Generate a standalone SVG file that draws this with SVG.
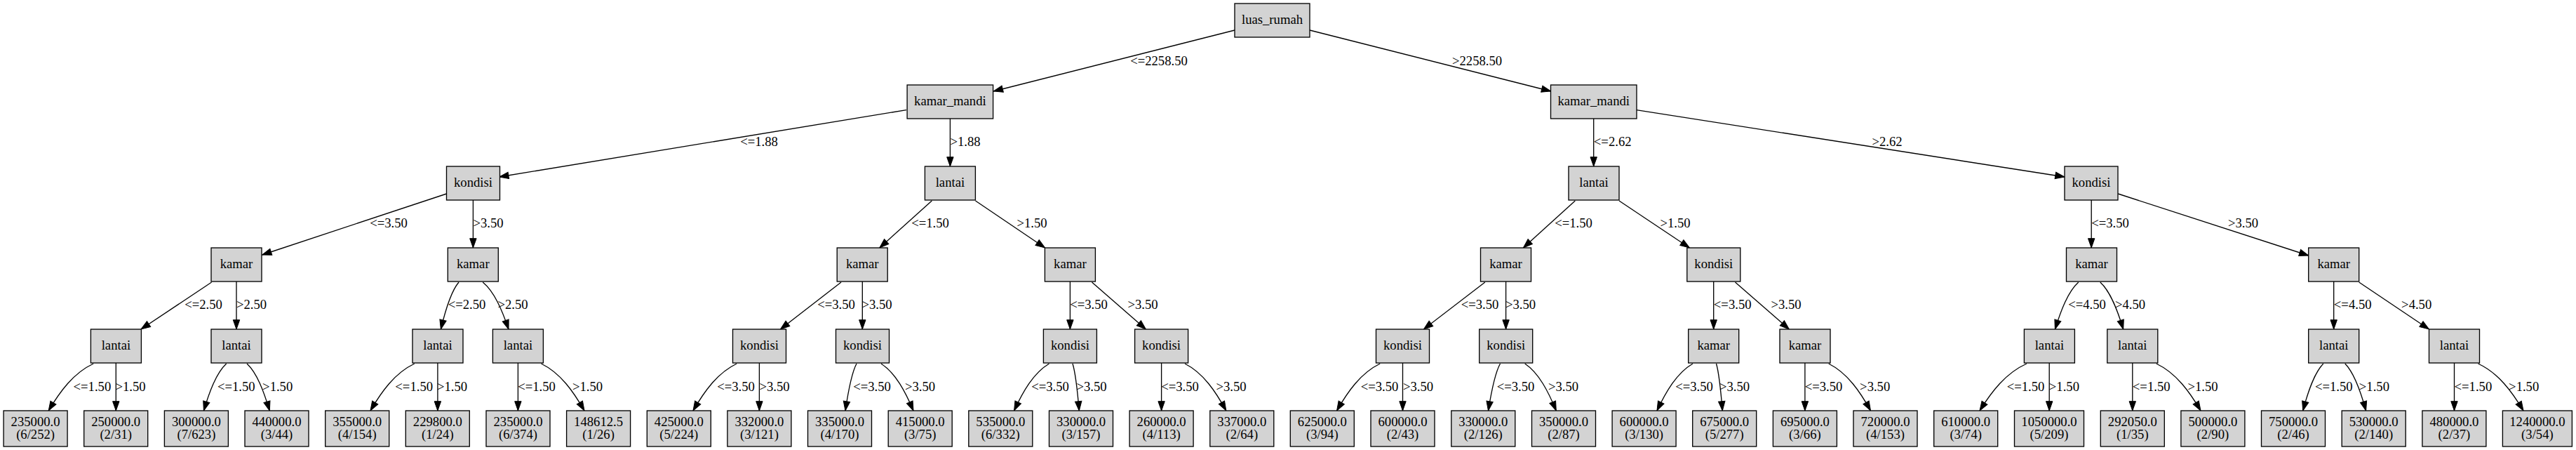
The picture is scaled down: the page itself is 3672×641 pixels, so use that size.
<svg xmlns="http://www.w3.org/2000/svg" width="3672" height="641" viewBox="0 0 3672 641">
<style>
.n rect{fill:#d3d3d3;stroke:#000;stroke-width:1.33}
text{font-family:"Liberation Serif","Times New Roman",serif;font-size:18.67px;text-anchor:middle;fill:#000}
.e path{fill:none;stroke:#000;stroke-width:1.33;marker-end:url(#a)}
</style>
<defs>
<marker id="a" markerUnits="userSpaceOnUse" markerWidth="13.3" markerHeight="9.4" viewBox="0 0 13.3 9.4" refX="13.3" refY="4.7" orient="auto" overflow="visible">
<path d="M0,0 L13.3,4.7 L0,9.4 z" fill="#000" stroke="#000" stroke-width="1"/>
</marker>
</defs>
<rect width="3672" height="641" fill="#fff"/>
<g id="connectors" class="e">
<path d="M1760,43 L1416.3,130"/>
<path d="M1867,43 L2210.7,130"/>
<path d="M1292,156.6 L711.7,252"/>
<path d="M1354.4,169 L1354.4,237"/>
<path d="M2271.7,169 L2271.7,237"/>
<path d="M2332.7,156.6 L2943,252"/>
<path d="M636.6,276 L373.7,363"/>
<path d="M674.4,285 L674.4,353"/>
<path d="M1328.3,286 L1253.8,353"/>
<path d="M1390.5,286 L1489.6,353"/>
<path d="M2245.3,286 L2171.4,353"/>
<path d="M2308,286 L2408.4,353"/>
<path d="M2981.2,285 L2981.2,353"/>
<path d="M3019.2,276 L3290.8,364"/>
<path d="M301.6,402 L201,469"/>
<path d="M337,401 L337,469"/>
<path d="M654,402 C642.5,415.4 634.8,442.2 628.4,469"/>
<path d="M688.2,402 C704.8,415.4 715.8,442.2 725,469"/>
<path d="M1199,402 L1112.4,469"/>
<path d="M1229.3,401 L1229.3,469"/>
<path d="M1525.4,401 L1525.4,469"/>
<path d="M1556.5,402 L1633.4,469"/>
<path d="M2116.8,402 L2029.4,469"/>
<path d="M2146.6,401 L2146.6,469"/>
<path d="M2442.7,401 L2442.7,469"/>
<path d="M2473.5,402 L2550.4,469"/>
<path d="M2962.8,402 C2947.8,415.4 2937.8,442.2 2929.4,469"/>
<path d="M2993.8,402 C3008.6,415.4 3018.5,442.2 3026.7,469"/>
<path d="M3326.7,401 L3326.7,469"/>
<path d="M3362.7,402 L3462.5,469"/>
<path d="M133.2,518 C104.4,531.4 85.2,558.2 69.2,585"/>
<path d="M165.3,517 L165.3,585"/>
<path d="M322.7,518 C308.2,531.4 298.5,558.2 290.4,585"/>
<path d="M352,518 C366.5,531.4 376.2,558.2 384.3,585"/>
<path d="M590.8,518 C562.5,531.4 543.7,558.2 528,585"/>
<path d="M623.9,517 L623.9,585"/>
<path d="M738.4,517 L738.4,585"/>
<path d="M771.5,518 C799.2,531.4 817.6,558.2 833,585"/>
<path d="M1050.2,518 C1022.2,531.4 1003.6,558.2 988,585"/>
<path d="M1082.4,517 L1082.4,585"/>
<path d="M1221,518 C1213.8,531.4 1209,558.2 1205,585"/>
<path d="M1256,518 C1276.7,531.4 1290.5,558.2 1302,585"/>
<path d="M1495.5,518 C1473,531.4 1458.1,558.2 1445.6,585"/>
<path d="M1529,518 C1533.2,531.4 1536,558.2 1538.3,585"/>
<path d="M1655.6,517 L1655.6,585"/>
<path d="M1689,518 C1715.5,531.4 1733.1,558.2 1747.8,585"/>
<path d="M1967.2,518 C1939.5,531.4 1921,558.2 1905.6,585"/>
<path d="M1999.5,517 L1999.5,585"/>
<path d="M2138.5,518 C2130.9,531.4 2125.8,558.2 2121.5,585"/>
<path d="M2173.7,518 C2193.8,531.4 2207.2,558.2 2218.3,585"/>
<path d="M2413,518 C2390,531.4 2374.8,558.2 2362,585"/>
<path d="M2446.5,518 C2450.5,531.4 2453.1,558.2 2455.3,585"/>
<path d="M2572.9,517 L2572.9,585"/>
<path d="M2606.7,518 C2633.6,531.4 2651.6,558.2 2666.5,585"/>
<path d="M2889,518 C2858.9,531.4 2838.8,558.2 2822,585"/>
<path d="M2921.2,517 L2921.2,585"/>
<path d="M3039.8,517 L3039.8,585"/>
<path d="M3073.8,518 C3102.2,531.4 3121.2,558.2 3137,585"/>
<path d="M3311.8,518 C3298.7,531.4 3290,558.2 3282.7,585"/>
<path d="M3342.8,518 C3356.2,531.4 3365.2,558.2 3372.6,585"/>
<path d="M3498.5,517 L3498.5,585"/>
<path d="M3532.5,518 C3561.5,531.4 3580.9,558.2 3597,585"/>
</g>
<g id="edge-labels">
<text x="1652" y="92.5">&lt;=2258.50</text>
<text x="2105.6" y="92.5">&gt;2258.50</text>
<text x="1082" y="208">&lt;=1.88</text>
<text x="1376" y="208">&gt;1.88</text>
<text x="2298.7" y="208">&lt;=2.62</text>
<text x="2690" y="208">&gt;2.62</text>
<text x="554" y="324">&lt;=3.50</text>
<text x="696" y="324">&gt;3.50</text>
<text x="1326" y="324">&lt;=1.50</text>
<text x="1471" y="324">&gt;1.50</text>
<text x="2243" y="324">&lt;=1.50</text>
<text x="2388" y="324">&gt;1.50</text>
<text x="3008" y="324">&lt;=3.50</text>
<text x="3197.5" y="324">&gt;3.50</text>
<text x="290" y="440">&lt;=2.50</text>
<text x="358.5" y="440">&gt;2.50</text>
<text x="665.6" y="440">&lt;=2.50</text>
<text x="731" y="440">&gt;2.50</text>
<text x="1192" y="440">&lt;=3.50</text>
<text x="1250" y="440">&gt;3.50</text>
<text x="1552" y="440">&lt;=3.50</text>
<text x="1629" y="440">&gt;3.50</text>
<text x="2109.5" y="440">&lt;=3.50</text>
<text x="2167.5" y="440">&gt;3.50</text>
<text x="2469.7" y="440">&lt;=3.50</text>
<text x="2546" y="440">&gt;3.50</text>
<text x="2975" y="440">&lt;=4.50</text>
<text x="3036.5" y="440">&gt;4.50</text>
<text x="3353.7" y="440">&lt;=4.50</text>
<text x="3444.7" y="440">&gt;4.50</text>
<text x="131.4" y="556.5">&lt;=1.50</text>
<text x="186" y="556.5">&gt;1.50</text>
<text x="336.8" y="556.5">&lt;=1.50</text>
<text x="395.7" y="556.5">&gt;1.50</text>
<text x="590.2" y="556.5">&lt;=1.50</text>
<text x="644.6" y="556.5">&gt;1.50</text>
<text x="765" y="556.5">&lt;=1.50</text>
<text x="837.5" y="556.5">&gt;1.50</text>
<text x="1049" y="556.5">&lt;=3.50</text>
<text x="1104" y="556.5">&gt;3.50</text>
<text x="1243" y="556.5">&lt;=3.50</text>
<text x="1311.5" y="556.5">&gt;3.50</text>
<text x="1497" y="556.5">&lt;=3.50</text>
<text x="1556" y="556.5">&gt;3.50</text>
<text x="1682" y="556.5">&lt;=3.50</text>
<text x="1755" y="556.5">&gt;3.50</text>
<text x="1966.6" y="556.5">&lt;=3.50</text>
<text x="2021.5" y="556.5">&gt;3.50</text>
<text x="2160.5" y="556.5">&lt;=3.50</text>
<text x="2228.6" y="556.5">&gt;3.50</text>
<text x="2415" y="556.5">&lt;=3.50</text>
<text x="2472.5" y="556.5">&gt;3.50</text>
<text x="2599.5" y="556.5">&lt;=3.50</text>
<text x="2672.7" y="556.5">&gt;3.50</text>
<text x="2887.6" y="556.5">&lt;=1.50</text>
<text x="2942.4" y="556.5">&gt;1.50</text>
<text x="3066.7" y="556.5">&lt;=1.50</text>
<text x="3140" y="556.5">&gt;1.50</text>
<text x="3326.8" y="556.5">&lt;=1.50</text>
<text x="3384.4" y="556.5">&gt;1.50</text>
<text x="3525.4" y="556.5">&lt;=1.50</text>
<text x="3597.7" y="556.5">&gt;1.50</text>
</g>
<g id="n0" class="n"><rect x="1760" y="5" width="107" height="48"/><text x="1813.5" y="34.3">luas_rumah</text></g>
<g id="n1" class="n"><rect x="1293.1" y="121" width="122.5" height="48"/><text x="1354.4" y="150.3">kamar_mandi</text></g>
<g id="n2" class="n"><rect x="2210.5" y="121" width="122.5" height="48"/><text x="2271.7" y="150.3">kamar_mandi</text></g>
<g id="n3" class="n"><rect x="636.5" y="237" width="76" height="48"/><text x="674.5" y="266.3">kondisi</text></g>
<g id="n4" class="n"><rect x="1318.4" y="237" width="72" height="48"/><text x="1354.4" y="266.3">lantai</text></g>
<g id="n5" class="n"><rect x="2236" y="237" width="72" height="48"/><text x="2272" y="266.3">lantai</text></g>
<g id="n6" class="n"><rect x="2943" y="237" width="76" height="48"/><text x="2981" y="266.3">kondisi</text></g>
<g id="n7" class="n"><rect x="301" y="353" width="72" height="48"/><text x="337" y="382.3">kamar</text></g>
<g id="n8" class="n"><rect x="638.3" y="353" width="72" height="48"/><text x="674.3" y="382.3">kamar</text></g>
<g id="n9" class="n"><rect x="1193.2" y="353" width="72" height="48"/><text x="1229.2" y="382.3">kamar</text></g>
<g id="n10" class="n"><rect x="1489.4" y="353" width="72" height="48"/><text x="1525.4" y="382.3">kamar</text></g>
<g id="n11" class="n"><rect x="2110.5" y="353" width="72" height="48"/><text x="2146.5" y="382.3">kamar</text></g>
<g id="n12" class="n"><rect x="2404.8" y="353" width="76" height="48"/><text x="2442.8" y="382.3">kondisi</text></g>
<g id="n13" class="n"><rect x="2945.5" y="353" width="72" height="48"/><text x="2981.5" y="382.3">kamar</text></g>
<g id="n14" class="n"><rect x="3290.7" y="353" width="72" height="48"/><text x="3326.7" y="382.3">kamar</text></g>
<g id="n15" class="n"><rect x="129.4" y="469" width="72" height="48"/><text x="165.4" y="498.3">lantai</text></g>
<g id="n16" class="n"><rect x="301" y="469" width="72" height="48"/><text x="337" y="498.3">lantai</text></g>
<g id="n17" class="n"><rect x="588" y="469" width="72" height="48"/><text x="624" y="498.3">lantai</text></g>
<g id="n18" class="n"><rect x="702.4" y="469" width="72" height="48"/><text x="738.4" y="498.3">lantai</text></g>
<g id="n19" class="n"><rect x="1044.5" y="469" width="76" height="48"/><text x="1082.5" y="498.3">kondisi</text></g>
<g id="n20" class="n"><rect x="1191.5" y="469" width="76" height="48"/><text x="1229.5" y="498.3">kondisi</text></g>
<g id="n21" class="n"><rect x="1487.4" y="469" width="76" height="48"/><text x="1525.4" y="498.3">kondisi</text></g>
<g id="n22" class="n"><rect x="1617.6" y="469" width="76" height="48"/><text x="1655.6" y="498.3">kondisi</text></g>
<g id="n23" class="n"><rect x="1961.5" y="469" width="76" height="48"/><text x="1999.5" y="498.3">kondisi</text></g>
<g id="n24" class="n"><rect x="2108.7" y="469" width="76" height="48"/><text x="2146.7" y="498.3">kondisi</text></g>
<g id="n25" class="n"><rect x="2406.7" y="469" width="72" height="48"/><text x="2442.7" y="498.3">kamar</text></g>
<g id="n26" class="n"><rect x="2537" y="469" width="72" height="48"/><text x="2573" y="498.3">kamar</text></g>
<g id="n27" class="n"><rect x="2885.4" y="469" width="72" height="48"/><text x="2921.4" y="498.3">lantai</text></g>
<g id="n28" class="n"><rect x="3003.8" y="469" width="72" height="48"/><text x="3039.8" y="498.3">lantai</text></g>
<g id="n29" class="n"><rect x="3290.7" y="469" width="72" height="48"/><text x="3326.7" y="498.3">lantai</text></g>
<g id="n30" class="n"><rect x="3462.5" y="469" width="72" height="48"/><text x="3498.5" y="498.3">lantai</text></g>
<g id="l1" class="n"><rect x="5.1" y="585" width="91" height="51"/><text x="50.6" y="606.5">235000.0<tspan x="50.6" y="625.2">(6/252)</tspan></text></g>
<g id="l2" class="n"><rect x="119.7" y="585" width="91" height="51"/><text x="165.2" y="606.5">250000.0<tspan x="165.2" y="625.2">(2/31)</tspan></text></g>
<g id="l3" class="n"><rect x="234.4" y="585" width="91" height="51"/><text x="279.9" y="606.5">300000.0<tspan x="279.9" y="625.2">(7/623)</tspan></text></g>
<g id="l4" class="n"><rect x="349" y="585" width="91" height="51"/><text x="394.5" y="606.5">440000.0<tspan x="394.5" y="625.2">(3/44)</tspan></text></g>
<g id="l5" class="n"><rect x="463.7" y="585" width="91" height="51"/><text x="509.2" y="606.5">355000.0<tspan x="509.2" y="625.2">(4/154)</tspan></text></g>
<g id="l6" class="n"><rect x="578.3" y="585" width="91" height="51"/><text x="623.8" y="606.5">229800.0<tspan x="623.8" y="625.2">(1/24)</tspan></text></g>
<g id="l7" class="n"><rect x="693" y="585" width="91" height="51"/><text x="738.5" y="606.5">235000.0<tspan x="738.5" y="625.2">(6/374)</tspan></text></g>
<g id="l8" class="n"><rect x="807.6" y="585" width="91" height="51"/><text x="853.1" y="606.5">148612.5<tspan x="853.1" y="625.2">(1/26)</tspan></text></g>
<g id="l9" class="n"><rect x="922.3" y="585" width="91" height="51"/><text x="967.8" y="606.5">425000.0<tspan x="967.8" y="625.2">(5/224)</tspan></text></g>
<g id="l10" class="n"><rect x="1036.9" y="585" width="91" height="51"/><text x="1082.4" y="606.5">332000.0<tspan x="1082.4" y="625.2">(3/121)</tspan></text></g>
<g id="l11" class="n"><rect x="1151.5" y="585" width="91" height="51"/><text x="1197" y="606.5">335000.0<tspan x="1197" y="625.2">(4/170)</tspan></text></g>
<g id="l12" class="n"><rect x="1266.2" y="585" width="91" height="51"/><text x="1311.7" y="606.5">415000.0<tspan x="1311.7" y="625.2">(3/75)</tspan></text></g>
<g id="l13" class="n"><rect x="1380.8" y="585" width="91" height="51"/><text x="1426.3" y="606.5">535000.0<tspan x="1426.3" y="625.2">(6/332)</tspan></text></g>
<g id="l14" class="n"><rect x="1495.5" y="585" width="91" height="51"/><text x="1541" y="606.5">330000.0<tspan x="1541" y="625.2">(3/157)</tspan></text></g>
<g id="l15" class="n"><rect x="1610.1" y="585" width="91" height="51"/><text x="1655.6" y="606.5">260000.0<tspan x="1655.6" y="625.2">(4/113)</tspan></text></g>
<g id="l16" class="n"><rect x="1724.8" y="585" width="91" height="51"/><text x="1770.3" y="606.5">337000.0<tspan x="1770.3" y="625.2">(2/64)</tspan></text></g>
<g id="l17" class="n"><rect x="1839.3" y="585" width="91" height="51"/><text x="1884.8" y="606.5">625000.0<tspan x="1884.8" y="625.2">(3/94)</tspan></text></g>
<g id="l18" class="n"><rect x="1954" y="585" width="91" height="51"/><text x="1999.5" y="606.5">600000.0<tspan x="1999.5" y="625.2">(2/43)</tspan></text></g>
<g id="l19" class="n"><rect x="2068.8" y="585" width="91" height="51"/><text x="2114.3" y="606.5">330000.0<tspan x="2114.3" y="625.2">(2/126)</tspan></text></g>
<g id="l20" class="n"><rect x="2183.5" y="585" width="91" height="51"/><text x="2229" y="606.5">350000.0<tspan x="2229" y="625.2">(2/87)</tspan></text></g>
<g id="l21" class="n"><rect x="2298.1" y="585" width="91" height="51"/><text x="2343.6" y="606.5">600000.0<tspan x="2343.6" y="625.2">(3/130)</tspan></text></g>
<g id="l22" class="n"><rect x="2412.7" y="585" width="91" height="51"/><text x="2458.2" y="606.5">675000.0<tspan x="2458.2" y="625.2">(5/277)</tspan></text></g>
<g id="l23" class="n"><rect x="2527.4" y="585" width="91" height="51"/><text x="2572.9" y="606.5">695000.0<tspan x="2572.9" y="625.2">(3/66)</tspan></text></g>
<g id="l24" class="n"><rect x="2642" y="585" width="91" height="51"/><text x="2687.5" y="606.5">720000.0<tspan x="2687.5" y="625.2">(4/153)</tspan></text></g>
<g id="l25" class="n"><rect x="2756.7" y="585" width="91" height="51"/><text x="2802.2" y="606.5">610000.0<tspan x="2802.2" y="625.2">(3/74)</tspan></text></g>
<g id="l26" class="n"><rect x="2871.5" y="585" width="99" height="51"/><text x="2921" y="606.5">1050000.0<tspan x="2921" y="625.2">(5/209)</tspan></text></g>
<g id="l27" class="n"><rect x="2994.3" y="585" width="91" height="51"/><text x="3039.8" y="606.5">292050.0<tspan x="3039.8" y="625.2">(1/35)</tspan></text></g>
<g id="l28" class="n"><rect x="3108.9" y="585" width="91" height="51"/><text x="3154.4" y="606.5">500000.0<tspan x="3154.4" y="625.2">(2/90)</tspan></text></g>
<g id="l29" class="n"><rect x="3223.5" y="585" width="91" height="51"/><text x="3269" y="606.5">750000.0<tspan x="3269" y="625.2">(2/46)</tspan></text></g>
<g id="l30" class="n"><rect x="3338.2" y="585" width="91" height="51"/><text x="3383.7" y="606.5">530000.0<tspan x="3383.7" y="625.2">(2/140)</tspan></text></g>
<g id="l31" class="n"><rect x="3452.9" y="585" width="91" height="51"/><text x="3498.4" y="606.5">480000.0<tspan x="3498.4" y="625.2">(2/37)</tspan></text></g>
<g id="l32" class="n"><rect x="3567.4" y="585" width="99" height="51"/><text x="3616.9" y="606.5">1240000.0<tspan x="3616.9" y="625.2">(3/54)</tspan></text></g>
</svg>
